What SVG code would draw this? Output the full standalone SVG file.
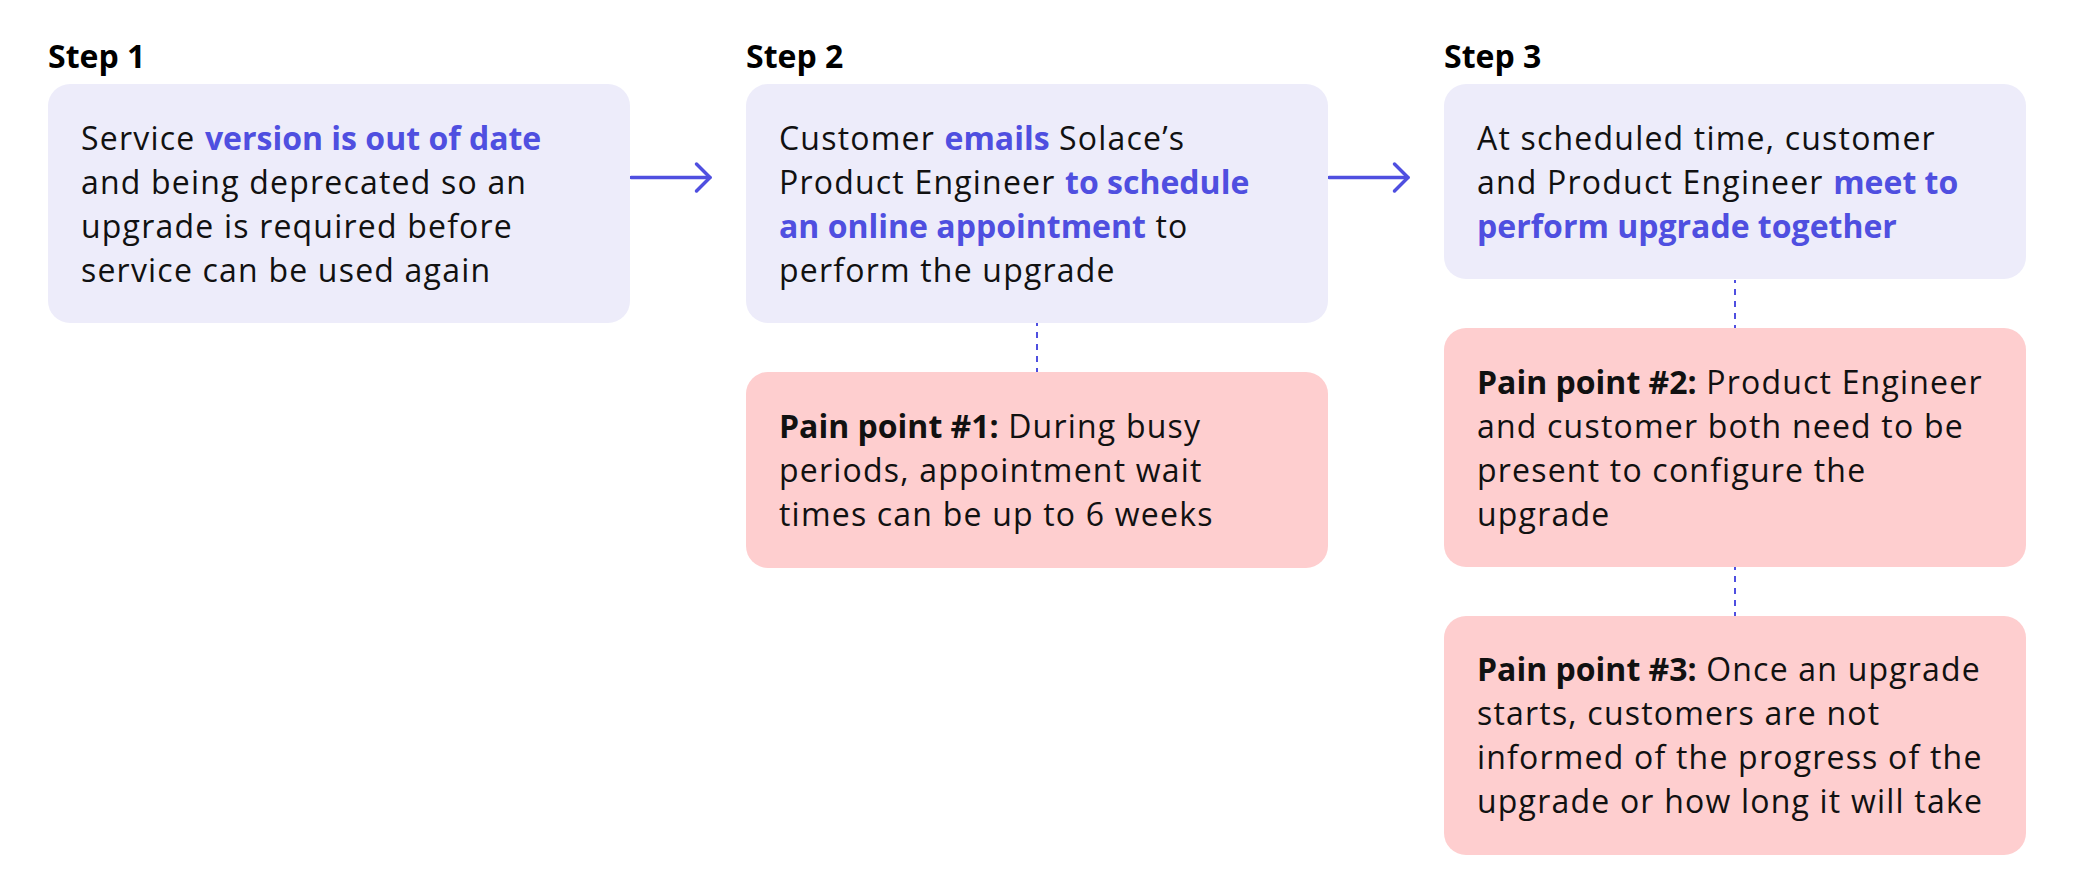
<svg xmlns="http://www.w3.org/2000/svg" width="2074" height="890" viewBox="0 0 2074 890">
  <style>
    text { font-family: "Open Sans", "Liberation Sans", sans-serif; font-size: 32px; fill: #111111; font-weight: 400; letter-spacing: 1.2px; }
    .hb { font-weight: 700; fill: #4F4FE0; letter-spacing: 0px; }
    .kb { font-weight: 700; fill: #111111; letter-spacing: 0px; }
    .step { font-weight: 700; fill: #000000; letter-spacing: 0px; }
    .stepbox { fill: #EDECFA; }
    .painbox { fill: #FECECF; }
    .arrow { stroke: #4F4FE0; stroke-width: 3.5; fill: none; stroke-linecap: round; }
    .dash { stroke: #4F4FE0; stroke-width: 2; fill: none; stroke-dasharray: 6 6; stroke-dashoffset: 3; }
  </style>
  <defs>
    <marker id="chev" markerUnits="userSpaceOnUse" markerWidth="22" markerHeight="34" refX="17" refY="17" orient="auto" overflow="visible">
      <path d="M3.5,3.5 L17,17 L3.5,30.5" fill="none" stroke="#4F4FE0" stroke-width="3.5" stroke-linecap="round" stroke-linejoin="round"/>
    </marker>
  </defs>

  <rect width="2074" height="890" fill="#FFFFFF"/>

  <g id="connectors">
    <line class="arrow" x1="631" y1="177.5" x2="710" y2="177.5" marker-end="url(#chev)"/>
    <line class="arrow" x1="1329" y1="177.5" x2="1408" y2="177.5" marker-end="url(#chev)"/>
    <line class="dash" x1="1037" y1="323" x2="1037" y2="372"/>
    <line class="dash" x1="1735" y1="280" x2="1735" y2="328"/>
    <line class="dash" x1="1735" y1="567" x2="1735" y2="616"/>
  </g>

  <g id="step1">
    <text class="step" x="48" y="68">Step 1</text>
    <rect class="stepbox" x="48" y="84" width="582" height="239" rx="22"/>
    <text x="81" y="150">Service <tspan class="hb">version is out of date</tspan></text>
    <text x="81" y="194">and being deprecated so an</text>
    <text x="81" y="238">upgrade is required before</text>
    <text x="81" y="282">service can be used again</text>
  </g>

  <g id="step2">
    <text class="step" x="746" y="68">Step 2</text>
    <rect class="stepbox" x="746" y="84" width="582" height="239" rx="22"/>
    <text x="779" y="150">Customer <tspan class="hb">emails</tspan> Solace’s</text>
    <text x="779" y="194">Product Engineer <tspan class="hb">to schedule</tspan></text>
    <text x="779" y="238"><tspan class="hb">an online appointment</tspan> to</text>
    <text x="779" y="282">perform the upgrade</text>
  </g>

  <g id="step3">
    <text class="step" x="1444" y="68">Step 3</text>
    <rect class="stepbox" x="1444" y="84" width="582" height="195" rx="22"/>
    <text x="1477" y="150">At scheduled time, customer</text>
    <text x="1477" y="194">and Product Engineer <tspan class="hb">meet to</tspan></text>
    <text class="hb" x="1477" y="238">perform upgrade together</text>
  </g>

  <g id="pain1">
    <rect class="painbox" x="746" y="372" width="582" height="196" rx="22"/>
    <text x="779" y="437.5"><tspan class="kb">Pain point #1:</tspan> During busy</text>
    <text x="779" y="481.5">periods, appointment wait</text>
    <text x="779" y="525.5">times can be up to 6 weeks</text>
  </g>

  <g id="pain2">
    <rect class="painbox" x="1444" y="328" width="582" height="239" rx="22"/>
    <text x="1477" y="394"><tspan class="kb">Pain point #2:</tspan> Product Engineer</text>
    <text x="1477" y="438">and customer both need to be</text>
    <text x="1477" y="482">present to configure the</text>
    <text x="1477" y="526">upgrade</text>
  </g>

  <g id="pain3">
    <rect class="painbox" x="1444" y="616" width="582" height="239" rx="22"/>
    <text x="1477" y="681"><tspan class="kb">Pain point #3:</tspan> Once an upgrade</text>
    <text x="1477" y="725">starts, customers are not</text>
    <text x="1477" y="769">informed of the progress of the</text>
    <text x="1477" y="813">upgrade or how long it will take</text>
  </g>
</svg>
